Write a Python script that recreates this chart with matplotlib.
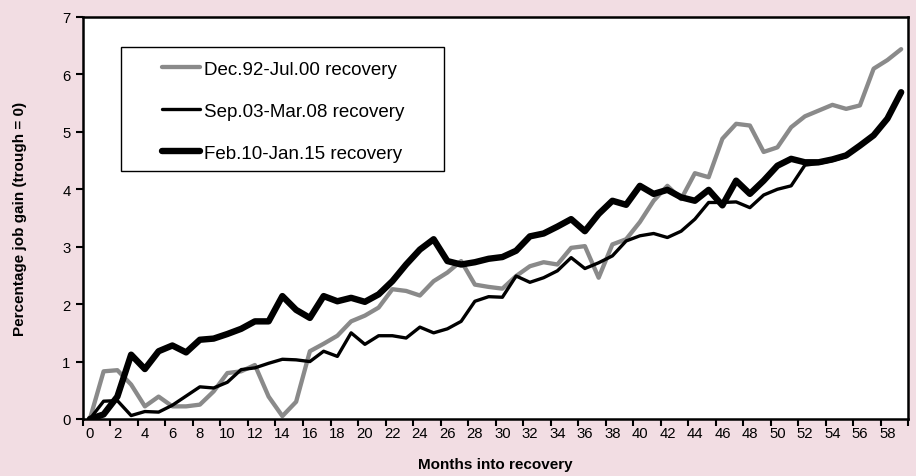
import numpy as np
import matplotlib
matplotlib.use("Agg")
import matplotlib.pyplot as plt
from matplotlib.ticker import FixedLocator, NullFormatter
from matplotlib.patches import Rectangle

plt.rcParams['font.family'] = ['Liberation Sans', 'DejaVu Sans']

months = list(range(60))
tick_labels = [str(m) for m in range(0, 60, 2)]

rec_1992 = [0.00, 0.83, 0.85, 0.60, 0.22, 0.39, 0.22, 0.22, 0.25, 0.48,
            0.80, 0.83, 0.94, 0.39, 0.05, 0.30, 1.18, 1.31, 1.45, 1.70,
            1.80, 1.94, 2.26, 2.23, 2.15, 2.40, 2.55, 2.75, 2.34, 2.30,
            2.27, 2.49, 2.66, 2.73, 2.69, 2.98, 3.01, 2.46, 3.04, 3.13,
            3.43, 3.80, 4.06, 3.83, 4.28, 4.21, 4.88, 5.14, 5.11, 4.65,
            4.73, 5.08, 5.27, 5.37, 5.47, 5.40, 5.46, 6.10, 6.25, 6.44]

rec_2003 = [0.00, 0.31, 0.32, 0.06, 0.13, 0.12, 0.24, 0.40, 0.56, 0.54,
            0.64, 0.86, 0.89, 0.97, 1.04, 1.03, 1.00, 1.18, 1.09, 1.50,
            1.30, 1.45, 1.45, 1.41, 1.60, 1.50, 1.57, 1.70, 2.05, 2.13,
            2.12, 2.49, 2.38, 2.46, 2.58, 2.81, 2.62, 2.72, 2.84, 3.10,
            3.19, 3.23, 3.16, 3.27, 3.48, 3.77, 3.77, 3.78, 3.68, 3.90,
            4.00, 4.06, 4.42, 4.45, 4.50, 4.57, 4.76, 4.94, 5.23, 5.69]

rec_2010 = [0.00, 0.08, 0.39, 1.12, 0.87, 1.18, 1.28, 1.16, 1.38, 1.40,
            1.48, 1.57, 1.70, 1.70, 2.14, 1.90, 1.76, 2.14, 2.05, 2.11,
            2.04, 2.17, 2.40, 2.69, 2.95, 3.13, 2.75, 2.69, 2.73, 2.79,
            2.82, 2.93, 3.18, 3.23, 3.35, 3.48, 3.27, 3.57, 3.80, 3.73,
            4.06, 3.92, 3.99, 3.86, 3.80, 3.99, 3.72, 4.15, 3.92, 4.15,
            4.41, 4.53, 4.47, 4.47, 4.52, 4.59, 4.76, 4.94, 5.23, 5.69]

labels = ["Dec.92-Jul.00 recovery", "Sep.03-Mar.08 recovery", "Feb.10-Jan.15 recovery"]

bg = '#f2dde3'
fig = plt.figure(figsize=(9.16, 4.77), dpi=100, facecolor=bg)
ax = fig.add_axes([0.0906, 0.1195, 0.9007, 0.8428])
ax.set_facecolor('white')

common = dict(solid_joinstyle='round', solid_capstyle='round')
ax.plot(months, rec_1992, color='#8a8a8a', lw=3.1, label=labels[0], **common)
ax.plot(months, rec_2003, color='black', lw=2.4, label=labels[1], **common)
ax.plot(months, rec_2010, color='black', lw=4.6, label=labels[2], **common)

ax.set_xlim(-0.5, 59.5)
ax.set_ylim(0, 7)

# x ticks: marks at category boundaries, labels at category centers
ax.xaxis.set_major_locator(FixedLocator(np.arange(-0.5, 60, 2)))
ax.xaxis.set_major_formatter(NullFormatter())
ax.set_xticks(range(0, 60, 2), minor=True)
ax.set_xticklabels(tick_labels, minor=True)
ax.tick_params(axis='x', which='major', direction='out', length=5, width=1.5)
ax.tick_params(axis='x', which='minor', length=0, labelsize=10.7, pad=5)

ax.set_yticks(range(0, 8))
ax.tick_params(axis='y', direction='out', length=5, width=1.5, labelsize=10.7, pad=4)

for s in ax.spines.values():
    s.set_linewidth(1.8)
    s.set_color('black')

ax.set_xlabel("Months into recovery", fontsize=11, fontweight='bold')
ax.xaxis.set_label_coords(0.5, -0.095)
ax.set_ylabel("Percentage job gain (trough = 0)", fontsize=11, fontweight='bold')
ax.yaxis.set_label_coords(-0.068, 0.5)

# legend box
box = Rectangle((0.046, 0.617), 0.3916, 0.3084, transform=ax.transAxes,
                facecolor='white', edgecolor='black', lw=1.0, zorder=4)
ax.add_patch(box)

leg = ax.legend(loc='upper left', bbox_to_anchor=(0.0958, 0.891), fontsize=13.5,
                frameon=False, handlelength=2.05, handletextpad=0.17,
                labelspacing=1.33, borderpad=0, borderaxespad=0)
leg.set_zorder(5)

fig.savefig('out.png', dpi=100, facecolor=bg)
